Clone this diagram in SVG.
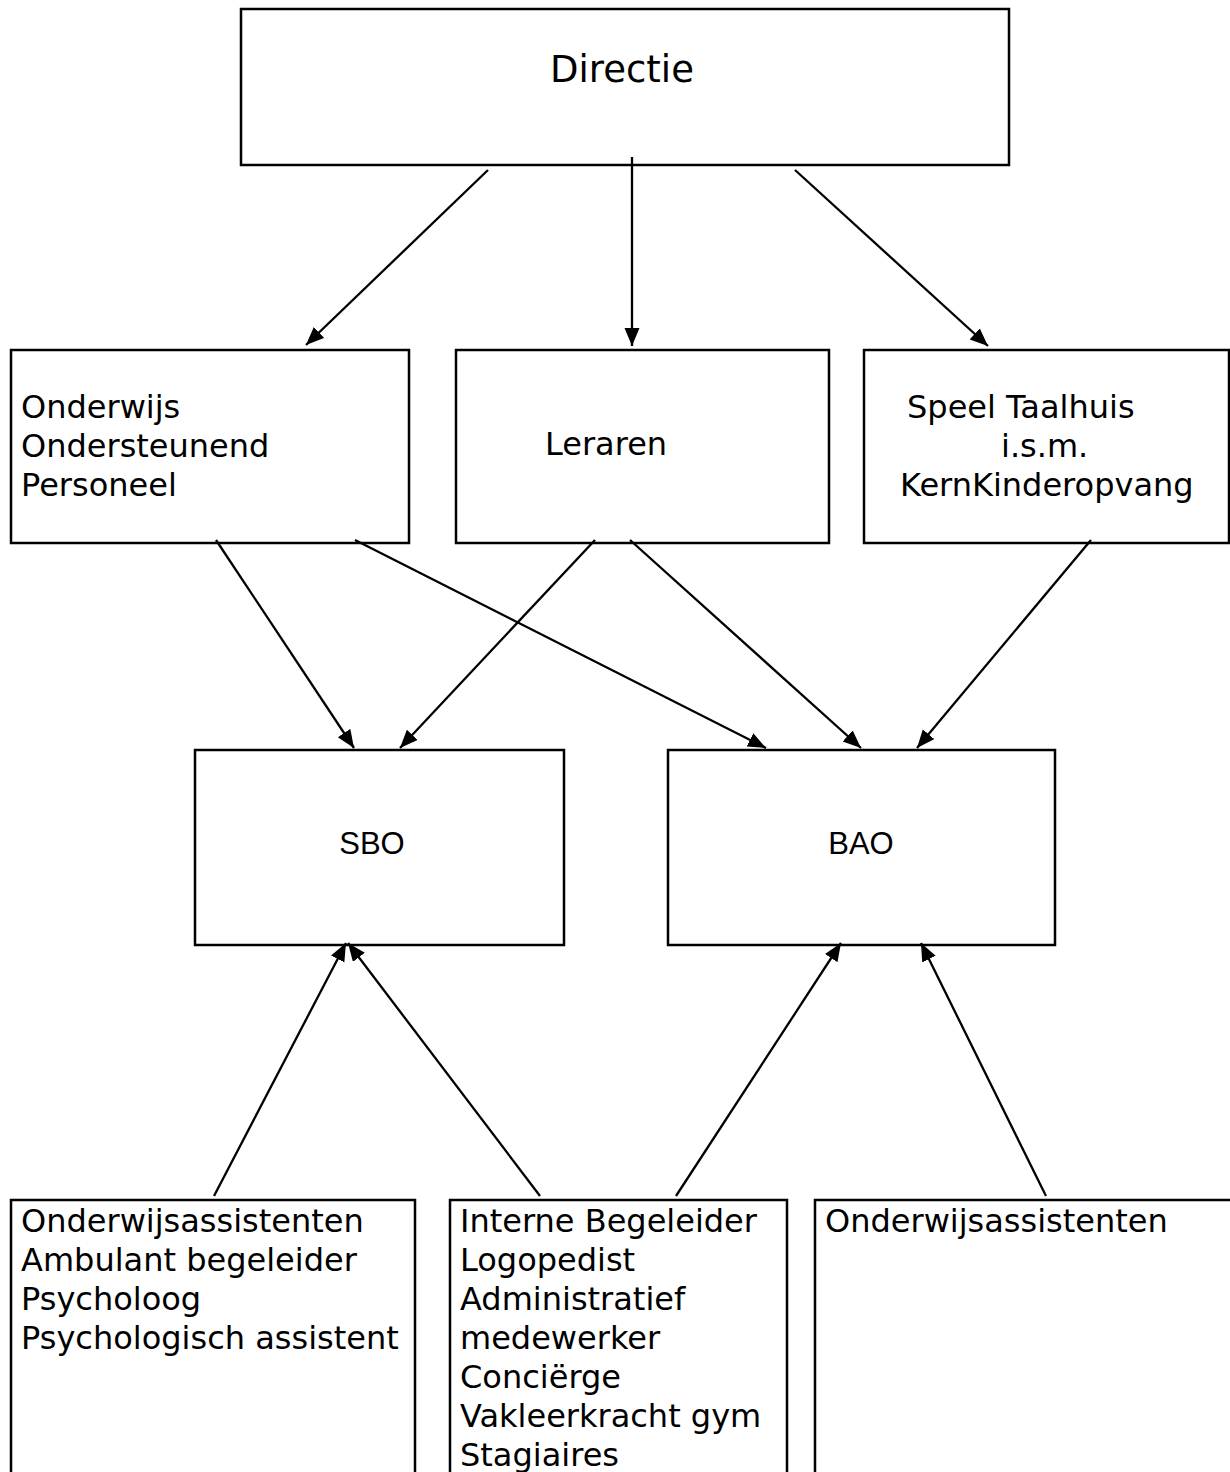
<svg xmlns="http://www.w3.org/2000/svg" width="1230" height="1472" viewBox="0 0 1230 1472">
<style>
.box{fill:#fff;stroke:#000;stroke-width:2.5}
.t{font-family:"DejaVu Sans",Verdana,sans-serif;font-size:32px;fill:#000}
.a{font-family:"Liberation Sans",Arial,sans-serif;font-size:31px;fill:#000}
.c{stroke:#000;stroke-width:2.3;fill:none;marker-end:url(#ah)}
</style>
<defs>
<marker id="ah" markerUnits="userSpaceOnUse" markerWidth="20" markerHeight="16" refX="18" refY="7.5" orient="auto">
<path d="M0,0 L18,7.5 L0,15 z" fill="#000"/>
</marker>
</defs>
<rect width="1230" height="1472" fill="#fff"/>
<g id="directie">
<rect class="box" x="241" y="9" width="768" height="156"/>
<text class="t" x="622" y="82" text-anchor="middle" style="font-size:37px">Directie</text>
</g>
<g id="oop">
<rect class="box" x="11" y="350" width="398" height="193"/>
<text class="t" x="21" y="418">Onderwijs</text>
<text class="t" x="21" y="457">Ondersteunend</text>
<text class="t" x="21" y="496">Personeel</text>
</g>
<g id="leraren">
<rect class="box" x="456" y="350" width="373" height="193"/>
<text class="t" x="545" y="455">Leraren</text>
</g>
<g id="speel">
<rect class="box" x="864" y="350" width="365" height="193"/>
<text class="t" x="907" y="418">Speel Taalhuis</text>
<text class="t" x="1001" y="457">i.s.m.</text>
<text class="t" x="900" y="496">KernKinderopvang</text>
</g>
<g id="sbo">
<rect class="box" x="195" y="750" width="369" height="195"/>
<text class="a" x="372" y="854" text-anchor="middle">SBO</text>
</g>
<g id="bao">
<rect class="box" x="668" y="750" width="387" height="195"/>
<text class="a" x="861" y="854" text-anchor="middle">BAO</text>
</g>
<g id="staf-sbo">
<rect class="box" x="11" y="1200" width="404" height="290"/>
<text class="t" x="21" y="1232">Onderwijsassistenten</text>
<text class="t" x="21" y="1271">Ambulant begeleider</text>
<text class="t" x="21" y="1310">Psycholoog</text>
<text class="t" x="21" y="1349">Psychologisch assistent</text>
</g>
<g id="staf-gedeeld">
<rect class="box" x="450" y="1200" width="337" height="290"/>
<text class="t" x="460" y="1232">Interne Begeleider</text>
<text class="t" x="460" y="1271">Logopedist</text>
<text class="t" x="460" y="1310">Administratief</text>
<text class="t" x="460" y="1349">medewerker</text>
<text class="t" x="460" y="1388">Conciërge</text>
<text class="t" x="460" y="1427">Vakleerkracht gym</text>
<text class="t" x="460" y="1466">Stagiaires</text>
</g>
<g id="staf-bao">
<rect class="box" x="815" y="1200" width="430" height="290"/>
<text class="t" x="825" y="1232">Onderwijsassistenten</text>
</g>
<g id="connectors">
<line class="c" x1="488" y1="170" x2="306" y2="345"/>
<line class="c" x1="632" y1="157" x2="632" y2="346"/>
<line class="c" x1="795" y1="170" x2="988" y2="346"/>
<line class="c" x1="216" y1="540" x2="354" y2="748"/>
<line class="c" x1="355" y1="540" x2="766" y2="748"/>
<line class="c" x1="595" y1="540" x2="400" y2="748"/>
<line class="c" x1="630" y1="540" x2="861" y2="748"/>
<line class="c" x1="1091" y1="540" x2="917" y2="748"/>
<line class="c" x1="214" y1="1196" x2="346" y2="943"/>
<line class="c" x1="540" y1="1196" x2="348" y2="943"/>
<line class="c" x1="676" y1="1196" x2="841" y2="943"/>
<line class="c" x1="1046" y1="1196" x2="921" y2="943"/>
</g>
</svg>
